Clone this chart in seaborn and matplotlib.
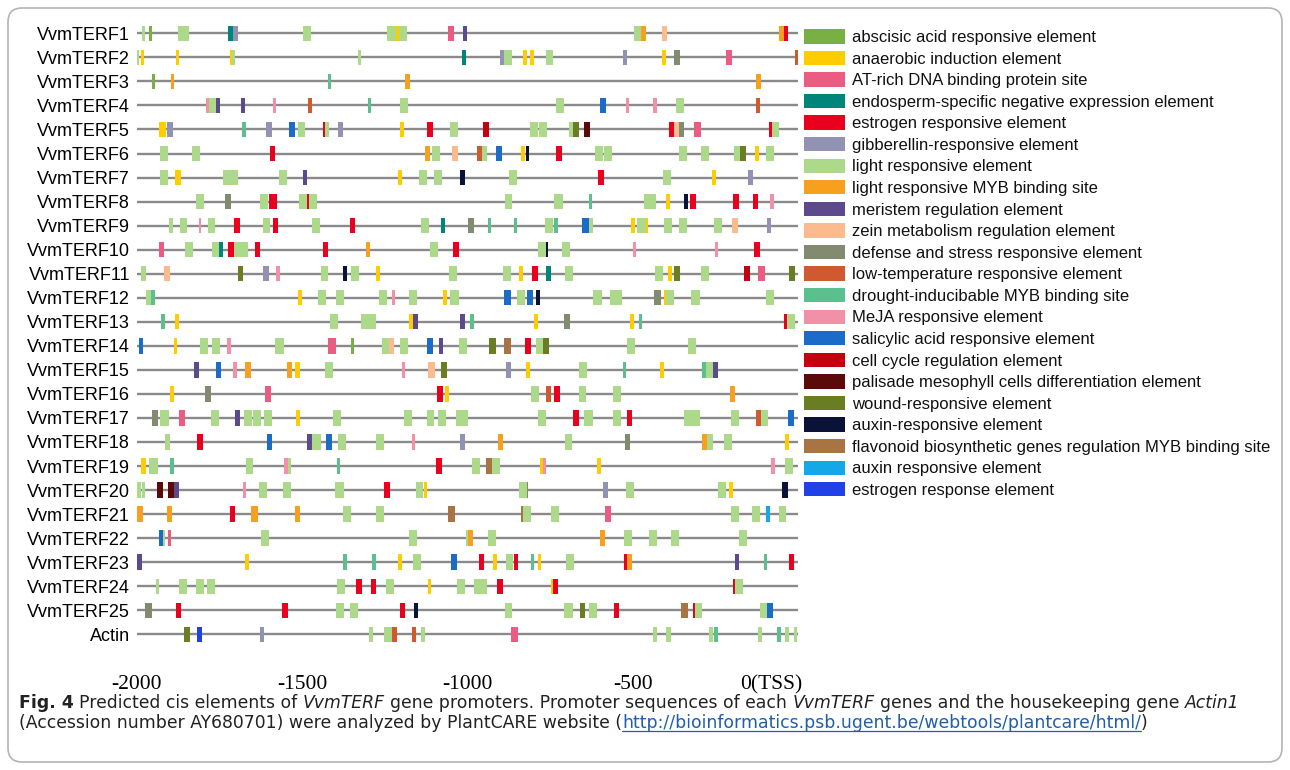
import matplotlib
matplotlib.use("Agg")
import matplotlib.pyplot as plt
import matplotlib.transforms as mtransforms
from matplotlib.patches import FancyBboxPatch, Rectangle
import seaborn as sns
import pandas as pd
import numpy as np

# ---------------- data ----------------
gene_names = ["VvmTERF1", "VvmTERF2", "VvmTERF3", "VvmTERF4", "VvmTERF5", "VvmTERF6",
              "VvmTERF7", "VvmTERF8", "VvmTERF9", "VvmTERF10", "VvmTERF11", "VvmTERF12",
              "VvmTERF13", "VvmTERF14", "VvmTERF15", "VvmTERF16", "VvmTERF17", "VvmTERF18",
              "VvmTERF19", "VvmTERF20", "VvmTERF21", "VvmTERF22", "VvmTERF23", "VvmTERF24",
              "VvmTERF25", "Actin"]

cat_codes = ["ABA", "ANA", "AT", "END", "EST", "GA", "LR", "MYB", "MER", "ZEIN", "DEF",
             "LT", "DRO", "MEJA", "SA", "CC", "PAL", "WND", "AUX1", "FLA", "AUX2", "ESR"]
cat_labels = ["abscisic acid responsive element", "anaerobic induction element",
              "AT-rich DNA binding protein site", "endosperm-specific negative expression element",
              "estrogen responsive element", "gibberellin-responsive element",
              "light responsive element", "light responsive MYB binding site",
              "meristem regulation element", "zein metabolism regulation element",
              "defense and stress responsive element", "low-temperature responsive element",
              "drought-inducibable MYB binding site", "MeJA responsive element",
              "salicylic acid responsive element", "cell cycle regulation element",
              "palisade mesophyll cells differentiation element", "wound-responsive element",
              "auxin-responsive element", "flavonoid biosynthetic genes regulation MYB binding site",
              "auxin responsive element", "estrogen response element"]
cat_colors = ["#78B044", "#FFCC00", "#EC5C82", "#00857A", "#E8001E", "#9292B2",
              "#ADD98A", "#F7A01E", "#5C4A8C", "#FBBB8E", "#828A70", "#D05A30",
              "#5BBF8E", "#F290A8", "#1A6CC8", "#C40010", "#5A0A08", "#6A7D23",
              "#0A1238", "#A87444", "#14A8E8", "#2040E8"]

# (centre position in bp, width in bp, element code)
VvmTERF1 = [(-1981, 9, "LR"), (-1958, 9, "ABA"), (-1859, 33, "LR"), (-1718, 14, "END"),
            (-1702, 14, "GA"), (-1486, 23, "LR"), (-1230, 26, "LR"), (-1212, 11, "ANA"),
            (-1194, 24, "LR"), (-1050, 20, "AT"), (-1008, 12, "MER"), (-486, 23, "LR"),
            (-467, 15, "MYB"), (-405, 16, "ZEIN"), (-49, 14, "MYB"), (-36, 13, "EST")]
VvmTERF2 = [(-1998, 7, "LR"), (-1984, 8, "ANA"), (-1878, 10, "ANA"), (-1716, 6, "ANA"),
            (-1709, 10, "LR"), (-1326, 10, "LR"), (-1011, 13, "END"), (-895, 11, "GA"),
            (-877, 23, "LR"), (-827, 12, "ANA"), (-805, 12, "ANA"), (-752, 23, "LR"),
            (-523, 13, "GA"), (-405, 11, "ANA"), (-366, 18, "DEF"), (-208, 19, "AT"),
            (-4, 11, "LT")]
VvmTERF3 = [(-1951, 10, "ABA"), (-1893, 9, "MYB"), (-1418, 10, "DRO"), (-1181, 15, "MYB"),
            (-120, 15, "MYB")]
VvmTERF4 = [(-1787, 10, "MEJA"), (-1771, 22, "LR"), (-1755, 11, "MER"), (-1680, 12, "MER"),
            (-1583, 10, "MEJA"), (-1476, 13, "LT"), (-1297, 10, "DRO"), (-1193, 24, "LR"),
            (-721, 24, "LR"), (-589, 18, "SA"), (-517, 9, "MEJA"), (-434, 12, "MEJA"),
            (-358, 24, "LR"), (-121, 12, "LT")]
VvmTERF5 = [(-1922, 20, "ANA"), (-1899, 18, "GA"), (-1676, 13, "DRO"), (-1601, 20, "GA"),
            (-1531, 20, "SA"), (-1503, 21, "LR"), (-1435, 7, "EST"), (-1425, 13, "LR"),
            (-1385, 14, "GA"), (-1198, 12, "ANA"), (-1113, 17, "EST"), (-1040, 24, "LR"),
            (-945, 19, "CC"), (-799, 25, "LR"), (-772, 25, "LR"), (-687, 14, "LR"),
            (-672, 16, "WND"), (-638, 18, "PAL"), (-383, 15, "EST"), (-368, 15, "ZEIN"),
            (-353, 15, "DEF"), (-303, 21, "AT"), (-83, 7, "EST"), (-68, 23, "LR")]
VvmTERF6 = [(-1918, 24, "LR"), (-1822, 24, "LR"), (-1591, 16, "EST"), (-1120, 15, "MYB"),
            (-1094, 24, "LR"), (-1038, 18, "ZEIN"), (-964, 14, "LT"), (-949, 16, "LR"),
            (-906, 18, "SA"), (-833, 12, "ANA"), (-819, 11, "AUX1"), (-724, 17, "EST"),
            (-603, 25, "LR"), (-575, 24, "LR"), (-348, 25, "LR"), (-281, 24, "LR"),
            (-185, 20, "LR"), (-165, 18, "WND"), (-125, 13, "ANA"), (-84, 24, "LR")]
VvmTERF7 = [(-1919, 23, "LR"), (-1875, 18, "ANA"), (-1717, 46, "LR"), (-1559, 24, "LR"),
            (-1491, 12, "MER"), (-1205, 12, "ANA"), (-1134, 24, "LR"), (-1089, 24, "LR"),
            (-1015, 13, "AUX1"), (-863, 25, "LR"), (-596, 16, "EST"), (-395, 24, "LR"),
            (-255, 12, "ANA"), (-143, 14, "GA")]
VvmTERF8 = [(-1808, 24, "LR"), (-1725, 19, "DEF"), (-1615, 24, "LR"), (-1589, 26, "EST"),
            (-1497, 23, "LR"), (-1468, 23, "LR"), (-1482, 6, "EST"), (-876, 24, "LR"),
            (-724, 27, "LR"), (-628, 11, "DRO"), (-448, 35, "LR"), (-394, 13, "ANA"),
            (-339, 13, "AUX1"), (-319, 18, "EST"), (-188, 18, "EST"), (-128, 16, "EST"),
            (-78, 11, "MEJA")]
VvmTERF9 = [(-1898, 13, "LR"), (-1860, 21, "LR"), (-1809, 7, "MEJA"), (-1775, 23, "LR"),
            (-1697, 16, "EST"), (-1609, 22, "LR"), (-1582, 16, "EST"), (-1457, 24, "LR"),
            (-1347, 15, "EST"), (-1129, 26, "LR"), (-1074, 14, "END"), (-990, 19, "DEF"),
            (-933, 11, "DRO"), (-855, 11, "DRO"), (-754, 26, "LR"), (-731, 12, "DRO"),
            (-643, 19, "SA"), (-626, 13, "LR"), (-499, 14, "ANA"), (-473, 26, "LR"),
            (-457, 7, "ANA"), (-392, 24, "LR"), (-347, 24, "LR"), (-242, 25, "LR"),
            (-192, 18, "ZEIN"), (-87, 13, "GA")]
VvmTERF10 = [(-1925, 16, "AT"), (-1842, 25, "LR"), (-1762, 22, "LR"), (-1746, 10, "END"),
             (-1715, 17, "EST"), (-1685, 41, "LR"), (-1635, 16, "EST"), (-1430, 16, "EST"),
             (-1301, 14, "MYB"), (-1100, 24, "LR"), (-1036, 18, "EST"), (-774, 24, "LR"),
             (-758, 6, "AUX1"), (-703, 24, "LR"), (-494, 9, "MEJA"), (-247, 10, "MEJA"),
             (-125, 19, "EST")]
VvmTERF11 = [(-1980, 14, "LR"), (-1909, 17, "ZEIN"), (-1687, 17, "WND"), (-1610, 20, "GA"),
             (-1573, 11, "MEJA"), (-1433, 23, "LR"), (-1370, 13, "AUX1"), (-1341, 24, "LR"),
             (-1272, 12, "ANA"), (-1043, 25, "LR"), (-881, 24, "LR"), (-837, 12, "ANA"),
             (-795, 17, "EST"), (-754, 14, "END"), (-694, 24, "LR"), (-420, 24, "LR"),
             (-388, 12, "ANA"), (-366, 18, "WND"), (-281, 24, "LR"), (-155, 19, "CC"),
             (-110, 20, "AT"), (-17, 18, "WND")]
VvmTERF12 = [(-1966, 14, "LR"), (-1952, 12, "DRO"), (-1507, 13, "ANA"), (-1439, 24, "LR"),
             (-1387, 24, "LR"), (-1255, 25, "LR"), (-1223, 10, "MEJA"), (-1165, 24, "LR"),
             (-1067, 12, "ANA"), (-1039, 25, "LR"), (-879, 21, "SA"), (-838, 24, "LR"),
             (-811, 19, "SA"), (-787, 14, "AUX1"), (-607, 25, "LR"), (-550, 36, "LR"),
             (-425, 19, "DEF"), (-388, 24, "LR"), (-402, 4, "ANA"), (-310, 25, "LR"),
             (-86, 24, "LR")]
VvmTERF13 = [(-1922, 11, "DRO"), (-1878, 13, "ANA"), (-1404, 24, "LR"), (-1300, 46, "LR"),
             (-1171, 13, "ANA"), (-1157, 14, "MER"), (-1016, 14, "MER"), (-987, 12, "DRO"),
             (-793, 13, "ANA"), (-700, 19, "DEF"), (-503, 12, "ANA"), (-476, 10, "DRO"),
             (-21, 24, "LR"), (-38, 9, "EST")]
VvmTERF14 = [(-1988, 10, "SA"), (-1884, 11, "ANA"), (-1797, 24, "LR"), (-1762, 25, "LR"),
             (-1721, 11, "MEJA"), (-1569, 28, "LR"), (-1410, 22, "AT"), (-1349, 10, "ABA"),
             (-1249, 21, "LR"), (-1230, 16, "ZEIN"), (-1192, 24, "LR"), (-1114, 19, "SA"),
             (-1080, 14, "MER"), (-1014, 25, "LR"), (-925, 20, "WND"), (-880, 21, "FLA"),
             (-817, 18, "EST"), (-782, 24, "LR"), (-762, 17, "WND"), (-505, 24, "LR"),
             (-321, 25, "LR")]
VvmTERF15 = [(-1820, 14, "MER"), (-1754, 15, "SA"), (-1704, 11, "MEJA"), (-1664, 16, "MYB"),
             (-1539, 16, "MYB"), (-1514, 14, "ANA"), (-1420, 24, "LR"), (-1193, 10, "MEJA"),
             (-1109, 19, "ZEIN"), (-1071, 20, "WND"), (-876, 16, "GA"), (-816, 13, "ANA"),
             (-650, 24, "LR"), (-525, 11, "DRO"), (-412, 13, "ANA"), (-285, 12, "DRO"),
             (-268, 19, "LR"), (-251, 15, "MER")]
VvmTERF16 = [(-1895, 13, "ANA"), (-1785, 19, "DEF"), (-1603, 19, "AT"), (-1082, 18, "EST"),
             (-1062, 13, "ANA"), (-797, 24, "LR"), (-754, 14, "LT"), (-728, 18, "EST"),
             (-652, 24, "LR"), (-549, 24, "LR"), (-199, 14, "MYB")]
VvmTERF17 = [(-1946, 19, "DEF"), (-1917, 25, "LR"), (-1864, 20, "AT"), (-1763, 24, "LR"),
             (-1695, 14, "MER"), (-1665, 24, "LR"), (-1636, 24, "LR"), (-1605, 24, "LR"),
             (-1512, 11, "ANA"), (-1396, 24, "LR"), (-1179, 24, "LR"), (-1112, 24, "LR"),
             (-1078, 25, "LR"), (-1017, 37, "LR"), (-775, 23, "LR"), (-672, 17, "EST"),
             (-634, 25, "LR"), (-548, 26, "LR"), (-510, 17, "EST"), (-322, 48, "LR"),
             (-190, 24, "LR"), (-119, 14, "LT"), (-101, 23, "LR"), (-22, 19, "SA")]
VvmTERF18 = [(-1907, 14, "LR"), (-1809, 17, "EST"), (-1599, 17, "SA"), (-1478, 14, "MER"),
             (-1457, 27, "LR"), (-1419, 18, "SA"), (-1380, 26, "LR"), (-1264, 25, "LR"),
             (-1162, 9, "MEJA"), (-1015, 14, "GA"), (-901, 14, "MYB"), (-694, 23, "LR"),
             (-516, 17, "DEF"), (-283, 15, "MYB"), (-267, 17, "LR"), (-212, 24, "LR"),
             (-34, 12, "ANA")]
VvmTERF19 = [(-1980, 15, "ANA"), (-1950, 26, "LR"), (-1895, 11, "DRO"), (-1660, 20, "LR"),
             (-1549, 11, "MEJA"), (-1539, 9, "LR"), (-1390, 11, "DRO"), (-1086, 17, "EST"),
             (-975, 24, "LR"), (-936, 18, "FLA"), (-915, 24, "LR"), (-777, 10, "ANA"),
             (-767, 11, "MEJA"), (-602, 12, "ANA"), (-76, 12, "MEJA"), (-27, 24, "LR")]
VvmTERF20 = [(-1994, 10, "LR"), (-1981, 10, "LR"), (-1931, 18, "PAL"), (-1898, 18, "PAL"),
             (-1881, 16, "MER"), (-1674, 10, "MEJA"), (-1619, 24, "LR"), (-1546, 24, "LR"),
             (-1387, 25, "LR"), (-1244, 16, "EST"), (-1145, 23, "LR"), (-1127, 11, "ANA"),
             (-833, 25, "LR"), (-818, 4, "DEF"), (-582, 16, "GA"), (-509, 24, "LR"),
             (-231, 24, "LR"), (-202, 12, "ANA"), (-39, 19, "AUX1")]
VvmTERF21 = [(-1991, 16, "MYB"), (-1902, 14, "MYB"), (-1711, 15, "EST"), (-1644, 20, "MYB"),
             (-1514, 14, "MYB"), (-1364, 24, "LR"), (-1266, 24, "LR"), (-1049, 21, "FLA"),
             (-821, 25, "LR"), (-836, 6, "FLA"), (-735, 24, "LR"), (-575, 20, "AT"),
             (-190, 24, "LR"), (-127, 24, "LR"), (-92, 12, "AUX2"), (-47, 24, "LR")]
VvmTERF22 = [(-1928, 13, "SA"), (-1918, 7, "LR"), (-1902, 11, "AT"), (-1614, 24, "LR"),
             (-1166, 24, "LR"), (-1003, 6, "LR"), (-991, 16, "MYB"), (-925, 24, "LR"),
             (-592, 15, "MYB"), (-514, 24, "LR"), (-438, 24, "LR"), (-372, 24, "LR"),
             (-166, 24, "LR")]
VvmTERF23 = [(-1992, 14, "MER"), (-1667, 12, "ANA"), (-1371, 11, "DRO"), (-1283, 11, "DRO"),
             (-1204, 12, "ANA"), (-1154, 24, "LR"), (-1041, 17, "SA"), (-957, 16, "EST"),
             (-916, 11, "ANA"), (-873, 24, "LR"), (-853, 14, "EST"), (-803, 11, "DRO"),
             (-782, 11, "ANA"), (-690, 24, "LR"), (-521, 8, "EST"), (-510, 14, "MYB"),
             (-184, 13, "MER"), (-99, 10, "DRO"), (-20, 17, "EST")]
VvmTERF24 = [(-1939, 10, "LR"), (-1862, 24, "LR"), (-1808, 24, "LR"), (-1776, 24, "LR"),
             (-1382, 24, "LR"), (-1328, 16, "EST"), (-1285, 16, "EST"), (-1235, 24, "LR"),
             (-1115, 12, "ANA"), (-1020, 24, "LR"), (-961, 37, "LR"), (-901, 17, "EST"),
             (-744, 7, "ANA"), (-733, 16, "EST"), (-178, 25, "LR"), (-193, 5, "EST")]
VvmTERF25 = [(-1965, 20, "DEF"), (-1875, 16, "EST"), (-1552, 16, "EST"), (-1386, 24, "LR"),
             (-1343, 24, "LR"), (-1197, 15, "EST"), (-1156, 12, "AUX1"), (-876, 24, "LR"),
             (-694, 26, "LR"), (-651, 16, "WND"), (-620, 24, "LR"), (-549, 16, "EST"),
             (-344, 21, "FLA"), (-302, 23, "LR"), (-316, 6, "EST"), (-104, 22, "LR"),
             (-84, 18, "SA")]
Actin = [(-1848, 18, "WND"), (-1811, 16, "ESR"), (-1622, 13, "GA"), (-1293, 12, "LR"),
         (-1240, 23, "LR"), (-1220, 14, "LT"), (-1161, 13, "LT"), (-1135, 14, "LR"),
         (-858, 21, "AT"), (-433, 14, "LR"), (-392, 14, "LR"), (-264, 13, "LR"),
         (-248, 14, "DRO"), (-114, 12, "LR"), (-58, 13, "DRO"), (-34, 12, "LR"),
         (-8, 11, "LR")]

gene_elements = [VvmTERF1, VvmTERF2, VvmTERF3, VvmTERF4, VvmTERF5, VvmTERF6, VvmTERF7,
                 VvmTERF8, VvmTERF9, VvmTERF10, VvmTERF11, VvmTERF12, VvmTERF13, VvmTERF14,
                 VvmTERF15, VvmTERF16, VvmTERF17, VvmTERF18, VvmTERF19, VvmTERF20, VvmTERF21,
                 VvmTERF22, VvmTERF23, VvmTERF24, VvmTERF25, Actin]

x_ticks = [-2000, -1500, -1000, -500, 0]
x_tick_labels = ["-2000", "-1500", "-1000", "-500", "0(TSS)"]
promoter_range = [-2000, 0]

# ---------------- build tables ----------------
color_of = dict(zip(cat_codes, cat_colors))
recs = []
for gi, (g, elems) in enumerate(zip(gene_names, gene_elements)):
    for c, w, code in elems:
        recs.append({"gene": g, "row": gi + 1, "center": c, "width": w, "code": code})
df = pd.DataFrame(recs)
df["start"] = df["center"] - df["width"] / 2
# light-responsive boxes first so the small elements overlay them
df["order"] = (df["code"] != "LR").astype(int)
df = df.sort_values("order", kind="stable")

lines = pd.DataFrame({"row": np.repeat(np.arange(1, len(gene_names) + 1), 2),
                      "x": np.tile(promoter_range, len(gene_names))})

# ---------------- figure ----------------
sns.set_theme(style="white")
plt.rcParams["font.family"] = ["Liberation Sans", "DejaVu Sans"]

W, H = 1290, 770
fig = plt.figure(figsize=(W / 100, H / 100), dpi=100)
fig.patch.set_facecolor("white")

ax_l, ax_r, ax_t, ax_b = 137, 798, 21.3, 646.3
ax = fig.add_axes([ax_l / W, 1 - ax_b / H, (ax_r - ax_l) / W, (ax_b - ax_t) / H])
ax.set_facecolor("none")

sns.lineplot(data=lines, x="x", y="row", units="row", estimator=None, sort=False,
             color="#8a8a8a", linewidth=1.7, ax=ax, legend=False, zorder=2)

ax.barh(df["row"], df["width"], left=df["start"], height=0.64,
        color=[color_of[c] for c in df["code"]], linewidth=0, zorder=3, clip_on=False)

ax.set_xlim(promoter_range)
ax.set_ylim(len(gene_names) + 0.5, 0.5)
for s in ax.spines.values():
    s.set_visible(False)
ax.grid(False)
ax.set_xlabel("")
ax.set_ylabel("")

ax.set_yticks(np.arange(1, len(gene_names) + 1))
ax.set_yticklabels(gene_names, fontsize=13, color="black")
ax.tick_params(axis="y", length=0, pad=5)

ax.set_xticks(x_ticks)
ax.set_xticklabels(x_tick_labels, fontsize=15.5, family="Liberation Serif", color="black")
ax.tick_params(axis="x", length=0, pad=21)
last = ax.get_xticklabels()[-1]
last.set_transform(last.get_transform() +
                   mtransforms.ScaledTranslation(-26.5 / 100, 0, fig.dpi_scale_trans))

# overlay in pixel coordinates for legend, caption and frame
ov = fig.add_axes([0, 0, 1, 1])
ov.set_xlim(0, W)
ov.set_ylim(H, 0)
ov.axis("off")
ov.patch.set_alpha(0)

leg_y0, leg_dy = 36.3, 21.57
for i, (lab, col) in enumerate(zip(cat_labels, cat_colors)):
    y = leg_y0 + i * leg_dy
    ov.add_patch(Rectangle((804, y - 7.2), 41, 14.4, facecolor=col, edgecolor="none"))
    ov.text(852, y + 1.2, lab, va="center", ha="left", fontsize=12, color="#111111")

ov.add_patch(FancyBboxPatch((8, 8), W - 16, H - 16,
                            boxstyle="round,pad=0,rounding_size=14",
                            fill=False, edgecolor="#b4b4b4", linewidth=1.2))

# caption
renderer = fig.canvas.get_renderer()
cap_font = "DejaVu Sans"
url = "http://bioinformatics.psb.ugent.be/webtools/plantcare/html/"
line1 = [("Fig. 4", "bold", "normal", False),
         ("Predicted cis elements of", "normal", "normal", True),
         ("VvmTERF", "normal", "italic", True),
         ("gene promoters. Promoter sequences of each", "normal", "normal", True),
         ("VvmTERF", "normal", "italic", True),
         ("genes and the housekeeping gene", "normal", "normal", True),
         ("Actin1", "normal", "italic", True)]
line2 = [("(Accession number AY680701) were analyzed by PlantCARE website (", "normal", "normal", False),
         (url, "link", "normal", False),
         (")", "normal", "normal", False)]


def measure(s, size, weight="normal", style="normal"):
    t = ov.text(0, 0, s, fontsize=size, family=cap_font, weight=weight, style=style)
    bb = t.get_window_extent(renderer)
    t.remove()
    return bb.width


def line_width(pieces, size):
    sp = measure("a a", size) - measure("aa", size)
    tot = 0
    for s, wt, st, spc in pieces:
        if spc:
            tot += sp
        tot += measure(s, size, "bold" if wt == "bold" else "normal", st)
    return tot


size0 = 12
cap_size = size0 * (1214 / line_width(line1, size0))


def draw_line(pieces, x0, y, size):
    sp = measure("a a", size) - measure("aa", size)
    x = x0
    for s, wt, st, spc in pieces:
        if spc:
            x += sp
        color = "#1f5fae" if wt == "link" else "#222222"
        weight = "bold" if wt == "bold" else "normal"
        t = ov.text(x, y, s, fontsize=size, family=cap_font, weight=weight, style=st,
                    color=color, va="baseline", ha="left")
        w = t.get_window_extent(renderer).width
        if wt == "link":
            ov.plot([x, x + w], [y + 2.5, y + 2.5], color=color, lw=0.9)
        x += w


draw_line(line1, 19, 708, cap_size)
draw_line(line2, 19, 728, cap_size)

fig.savefig("out.png", dpi=100, facecolor="white")
